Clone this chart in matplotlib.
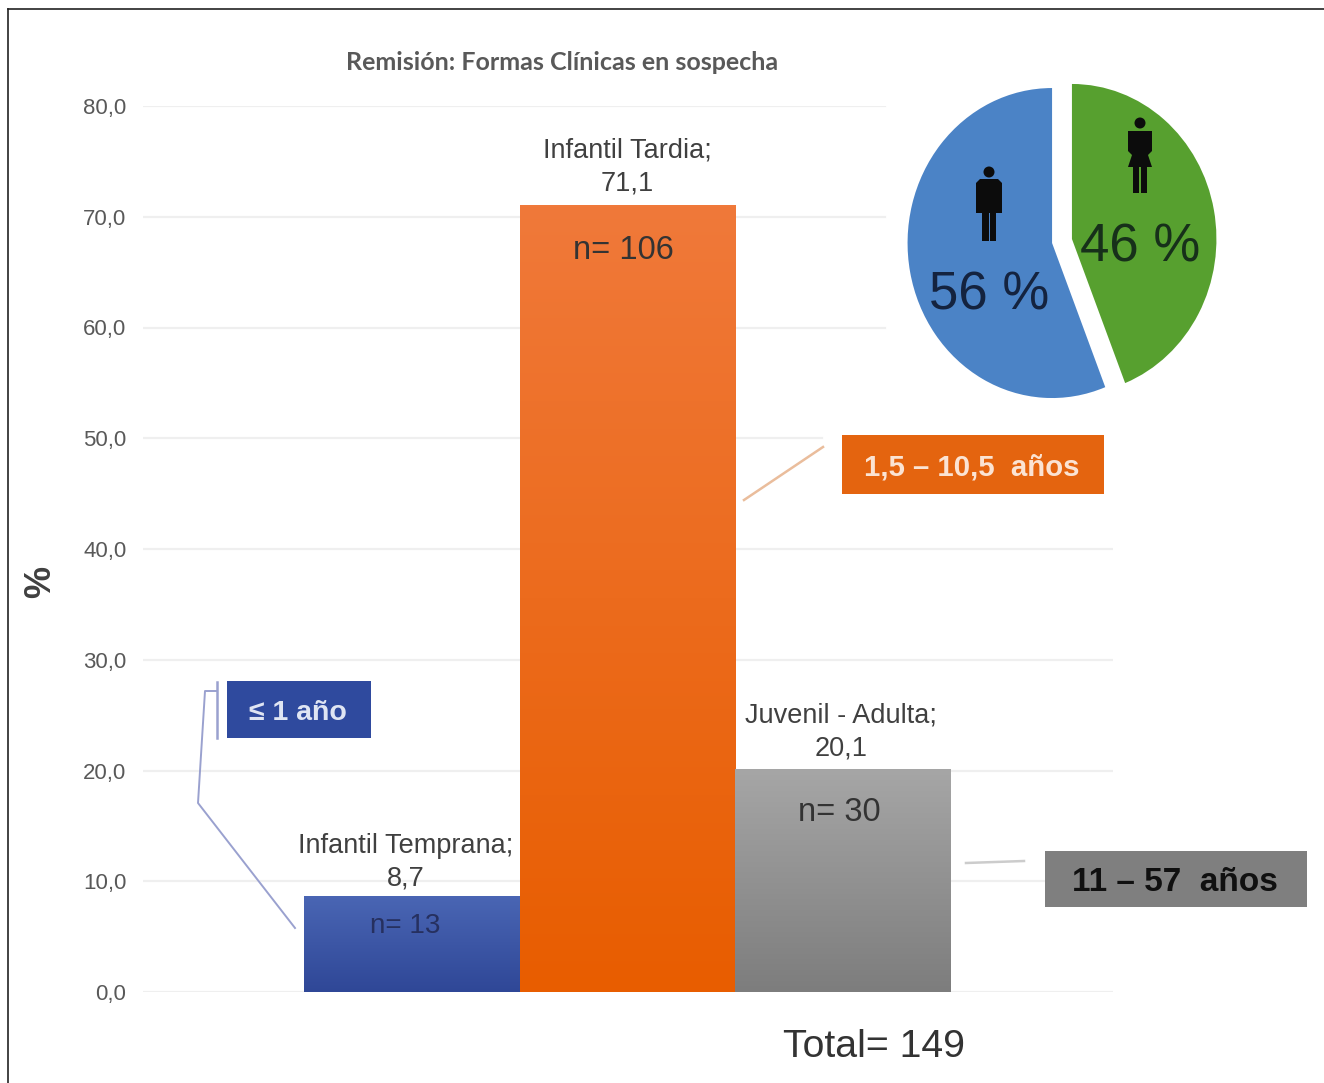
import numpy as np
import matplotlib
matplotlib.use("Agg")
import matplotlib.pyplot as plt
from matplotlib.patches import Rectangle, Circle, Polygon
from matplotlib.colors import LinearSegmentedColormap

W, H = 1324, 1083
categories = ["Infantil Temprana", "Infantil Tardia", "Juvenil - Adulta"]
values = [8.7, 71.1, 20.1]
counts = [13, 106, 30]
value_labels = ["8,7", "71,1", "20,1"]
y_ticks = [0, 10, 20, 30, 40, 50, 60, 70, 80]
y_tick_labels = ["0,0", "10,0", "20,0", "30,0", "40,0", "50,0", "60,0", "70,0", "80,0"]
gradients = [("#4a66b4", "#2f4797"), ("#f0793a", "#e85d00"), ("#a6a6a6", "#7d7d7d")]
sex_labels = ["46 %", "56 %"]
sex_shares = [44, 56]
sex_colors = ["#57a02f", "#4b83c6"]
FONT = "Liberation Sans"
GREY = "#404040"

def px(x0, y0, x1, y1):
    return [x0 / W, 1 - y1 / H, (x1 - x0) / W, (y1 - y0) / H]

fig = plt.figure(figsize=(W / 100, H / 100), dpi=100, facecolor="white")

# main bar axes
ax = fig.add_axes(px(143, 106, 1113, 992))
ax.set_xlim(-1.248, 3.253)
ax.set_ylim(0, 80)
ax.patch.set_alpha(0)
for s in ax.spines.values():
    s.set_visible(False)
ax.set_xticks([])
ax.set_yticks(y_ticks)
ax.set_yticklabels(y_tick_labels, family=FONT, fontsize=16, color="#595959")
ax.tick_params(axis="y", length=0, pad=12)
for t, lab in zip(y_ticks, y_tick_labels):
    xmax = 0.765 if t >= 60 else (0.70 if t == 50 else 1)
    ax.axhline(t, xmin=0, xmax=xmax, color="#efefef", lw=1.6, zorder=1)

bars = ax.bar(range(3), values, width=1.0, color="none", zorder=2)
for b, (top, bot) in zip(bars, gradients):
    cmap = LinearSegmentedColormap.from_list("g", [bot, top])
    im = ax.imshow(np.linspace(1, 0, 256)[:, None], cmap=cmap, aspect="auto", zorder=2,
                   extent=[b.get_x(), b.get_x() + b.get_width(), 0, b.get_height()],
                   vmin=0, vmax=1)
    im.set_clip_path(b)
ax.set_xlim(-1.248, 3.253)
ax.set_ylim(0, 80)

label_offsets = [0.35, 0.75, 0.75]
label_shift = [-0.03, 0, -0.01]
for i, (c, v, lab) in enumerate(zip(categories, values, value_labels)):
    ax.text(i + label_shift[i], v + label_offsets[i], f"{c};\n{lab}", ha="center", va="bottom",
            family=FONT, fontsize=19.5, color=GREY, linespacing=1.35, zorder=4)
n_offsets = [2.7, 4.15, 3.9]
n_shift = [-0.03, -0.02, -0.015]
for i, (n, v, off) in enumerate(zip(counts, values, n_offsets)):
    ax.text(i + n_shift[i], v - off, f"n= {n}", ha="center", va="center",
            family=FONT, fontsize=23.5 if i else 20, color="#333333" if i else "#26305f", zorder=4)

# pie
pax = fig.add_axes(px(1062 - 173.4, 241 - 186, 1062 + 173.4, 241 + 186))
pax.pie(sex_shares, colors=sex_colors, startangle=90, counterclock=False,
        explode=[0.07, 0.07], radius=1.0)
pax.set_xlim(-1.2, 1.2)
pax.set_ylim(-1.2, 1.2)
pax.set_aspect("auto")

# overlay in image pixels
ov = fig.add_axes([0, 0, 1, 1], zorder=10)
ov.set_xlim(0, W)
ov.set_ylim(H, 0)
ov.axis("off")

ov.text(562, 62, "Remisión: Formas Clínicas en sospecha", ha="center", va="center",
        family="Lato", fontweight="bold", fontsize=18, color="#595959")
ov.text(41, 582, "%", rotation=90, ha="center", va="center", family=FONT,
        fontweight="bold", fontsize=26, color="#404040")
ov.text(874, 1047, "Total= 149", ha="center", va="center", family=FONT,
        fontsize=28.3, color="#333333")
ov.text(1140, 247, sex_labels[0], ha="center", va="center", family=FONT, fontsize=38, color="#17301a")
ov.text(989, 295, sex_labels[1], ha="center", va="center", family=FONT, fontsize=38, color="#14233f")

def person(cx, top, female=False):
    k = "#0c0c0c"
    ov.add_patch(Circle((cx, top + 5), 5.5, color=k, lw=0))
    if female:
        ov.add_patch(Polygon([(cx - 12, top + 13), (cx + 12, top + 13), (cx + 12, top + 33), (cx + 8, top + 37),
                              (cx + 12, top + 49), (cx - 12, top + 49), (cx - 8, top + 37), (cx - 12, top + 33)],
                             color=k, lw=0))
        ov.add_patch(Rectangle((cx - 7, top + 47), 6, 28, color=k, lw=0))
        ov.add_patch(Rectangle((cx + 1, top + 47), 6, 28, color=k, lw=0))
    else:
        ov.add_patch(Polygon([(cx - 9, top + 12), (cx + 9, top + 12), (cx + 13, top + 16), (cx + 13, top + 46),
                              (cx - 13, top + 46), (cx - 13, top + 16)], color=k, lw=0))
        ov.add_patch(Rectangle((cx - 7, top + 44), 6.5, 30, color=k, lw=0))
        ov.add_patch(Rectangle((cx + 0.5, top + 44), 6.5, 30, color=k, lw=0))

person(989, 167)
person(1140, 118, True)

# range boxes
boxes = [(227, 681, 371, 738, "#2f4a9e", "≤ 1 año", "#dfe5f3", 20.5),
         (842, 435, 1104, 494, "#e4640f", "1,5 – 10,5  años", "#fbe3d3", 21.2),
         (1045, 851, 1307, 907, "#7f7f7f", "11 – 57  años", "#101010", 24)]
for x0, y0, x1, y1, col, txt, tc, fs in boxes:
    ov.add_patch(Rectangle((x0, y0), x1 - x0, y1 - y0, color=col, lw=0))
    ov.text((x0 + x1) / 2 - 1.5, (y0 + y1) / 2 + 3.5, txt, ha="center", va="center", family=FONT,
            fontweight="bold", fontsize=fs, color=tc)

# leader lines
ov.plot([295, 198, 205, 217], [928, 803, 691, 691], color="#9aa1cf", lw=1.4)
ov.plot([217, 217], [682, 738], color="#9aa1cf", lw=1.8)
ov.plot([744, 823], [500, 447], color="#eabd9c", lw=1.8)
ov.plot([966, 1024], [863, 861], color="#cccccc", lw=1.8)

# frame
ov.plot([8, 8], [H, 9], color="#222222", lw=1.2)
ov.plot([8, W], [9, 9], color="#222222", lw=1.2)

fig.savefig("out.png", dpi=100)
